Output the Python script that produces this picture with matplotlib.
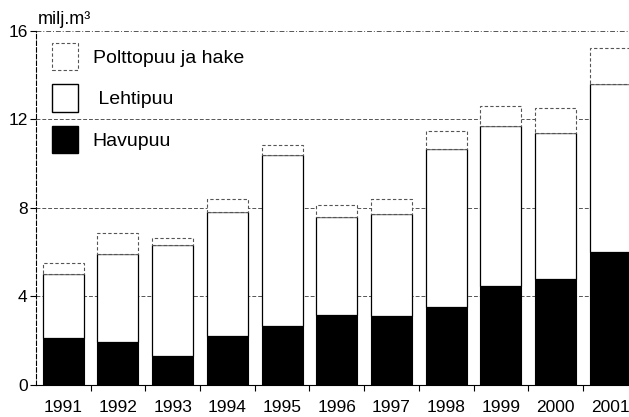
import matplotlib.pyplot as plt
import numpy as np
from matplotlib.patches import Patch

plt.rcParams["font.family"] = ["Liberation Sans", "DejaVu Sans"]

vuodet = ["1991", "1992", "1993", "1994", "1995", "1996", "1997", "1998", "1999", "2000", "2001"]
havupuu = [2.1, 1.95, 1.3, 2.23, 2.64, 3.17, 3.12, 3.54, 4.45, 4.78, 5.99]
lehtipuu_yht = [5.0, 5.9, 6.3, 7.8, 10.4, 7.59, 7.74, 10.66, 11.72, 11.39, 13.6]
kaikki_yht = [5.5, 6.85, 6.65, 8.4, 10.83, 8.11, 8.4, 11.46, 12.62, 12.5, 15.23]

havu = np.array(havupuu)
lehti = np.array(lehtipuu_yht) - havu
poltto = np.array(kaikki_yht) - np.array(lehtipuu_yht)

fig = plt.figure(figsize=(6.29, 4.17), dpi=100)
ax = fig.add_axes([0.057, 0.077, 0.943, 0.849])

x = np.arange(len(vuodet))
ancho = 0.75

ax.bar(x, havu, ancho, color="black", edgecolor="black", linewidth=0.8, zorder=3)
ax.bar(x, lehti, ancho, bottom=havu, color="white", edgecolor="black",
       linewidth=0.9, zorder=3)
ax.bar(x, poltto, ancho, bottom=havu + lehti, color="white", edgecolor="#555555",
       linewidth=0.8, linestyle=(0, (3, 2)), zorder=3)

for y in [4, 8, 12]:
    ax.axhline(y, color="#555555", linewidth=0.7, linestyle=(0, (4, 2)), zorder=1)
ax.axhline(16, color="#555555", linewidth=0.7, linestyle=(0, (5, 2, 1, 2)), zorder=1)

ax.set_xlim(-0.5, 10.34)
ax.set_ylim(0, 16)
ax.set_yticks([0, 4, 8, 12, 16])
ax.set_yticklabels(["0", "4", "8", "12", "16"], fontsize=12.5)
ax.set_xticks(x)
ax.set_xticklabels(vuodet, fontsize=12.5)
ax.tick_params(axis="x", length=0, pad=11)
ax.set_xticks(x[:-1] + 0.5, minor=True)
ax.tick_params(axis="x", which="minor", length=4, width=0.8, direction="out")
ax.tick_params(axis="y", length=4, width=0.8, pad=2)

for lado in ["top", "right"]:
    ax.spines[lado].set_visible(False)
ax.spines["left"].set_linestyle((0, (4, 2)))
ax.spines["left"].set_linewidth(0.8)
ax.spines["bottom"].set_linewidth(0.8)

ax.text(0.003, 1.008, "milj.m³", transform=ax.transAxes, fontsize=13,
        ha="left", va="bottom")

handles = [
    Patch(facecolor="white", edgecolor="#555555", linestyle=(0, (3, 2)), linewidth=0.8,
          label="Polttopuu ja hake"),
    Patch(facecolor="white", edgecolor="black", linewidth=1.0, label=" Lehtipuu"),
    Patch(facecolor="black", edgecolor="black", label="Havupuu"),
]
ax.legend(handles=handles, loc="upper left", bbox_to_anchor=(0.027, 0.966), frameon=False,
          fontsize=14, borderpad=0, borderaxespad=0, handlelength=1.35,
          handleheight=1.8, labelspacing=0.72, handletextpad=0.75)

fig.savefig("out.png", dpi=100)
